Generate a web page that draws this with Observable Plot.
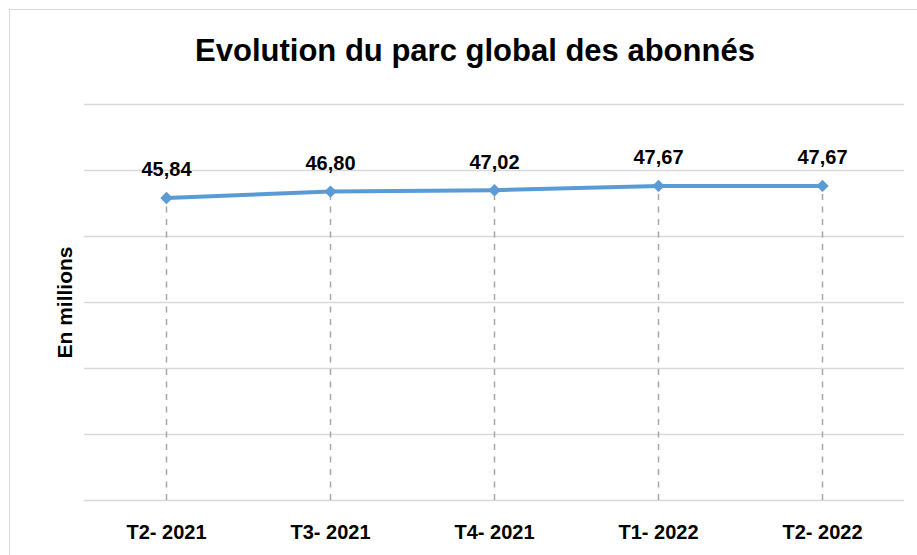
<!DOCTYPE html>
<html>
<head>
<meta charset="utf-8">
<script src="https://cdn.jsdelivr.net/npm/d3@7"></script>
<script src="https://cdn.jsdelivr.net/npm/@observablehq/plot@0.6"></script>
<style>
  html, body { margin: 0; padding: 0; background: #fff; }
  #wrap { position: relative; width: 917px; height: 555px; overflow: hidden; font-family: "Liberation Sans", Arial, sans-serif; }
  #frame { position: absolute; left: 9px; top: 9px; width: 1000px; height: 1000px; border: 1px solid #d9d9d9; box-sizing: border-box; }
  #title { position: absolute; left: 0; top: 35px; width: 950px; text-align: center; font-size: 31px; line-height: 31px; font-weight: bold; color: #000; }
  #chart { position: absolute; left: 0; top: 90px; }
</style>
</head>
<body>
<div id="wrap">
  <div id="frame"></div>
  <div id="title">Evolution du parc global des abonnés</div>
  <div id="chart"></div>
</div>
<script>
const quarters = ["T2- 2021", "T3- 2021", "T4- 2021", "T1- 2022", "T2- 2022"];
const values = [45.84, 46.80, 47.02, 47.67, 47.67];
const yTicks = [0, 10, 20, 30, 40, 50, 60];
const yLabel = "En millions";

const data = quarters.map((q, i) => ({q, v: values[i]}));
const fmt = v => v.toFixed(2).replace(".", ",");

const chart = Plot.plot({
  width: 917,
  height: 465,
  marginTop: 14,
  marginBottom: 55,
  marginLeft: 84,
  marginRight: 13,
  style: {fontFamily: '"Liberation Sans", Arial, sans-serif', background: "transparent", overflow: "visible"},
  x: {type: "point", domain: quarters, padding: 0.5, label: null},
  y: {domain: [0, 60], axis: null},
  marks: [
    Plot.ruleY(yTicks, {stroke: "#d9d9d9", strokeWidth: 1.5}),
    Plot.ruleX(data, {x: "q", y1: 0, y2: "v", stroke: "#a6a6a6", strokeWidth: 1.5, strokeDasharray: "6,6.5"}),
    Plot.line(data, {x: "q", y: "v", stroke: "#5b9bd5", strokeWidth: 4}),
    Plot.dot(data, {x: "q", y: "v", symbol: "diamond2", r: 5.6, fill: "#5b9bd5", stroke: "none"}),
    Plot.text(data, {x: "q", y: "v", text: d => fmt(d.v), dy: -28, fontSize: 20, fontWeight: "bold", fill: "#000"}),
    Plot.text([yLabel], {frameAnchor: "left", textAnchor: "middle", rotate: -90, dx: -19, fontSize: 21, fontWeight: "bold", fill: "#000"}),
    Plot.axisX({tickSize: 0, tickPadding: 24, fontSize: 20, fontWeight: "bold", fill: "#000", label: null})
  ]
});
document.getElementById("chart").appendChild(chart);
</script>
</body>
</html>
